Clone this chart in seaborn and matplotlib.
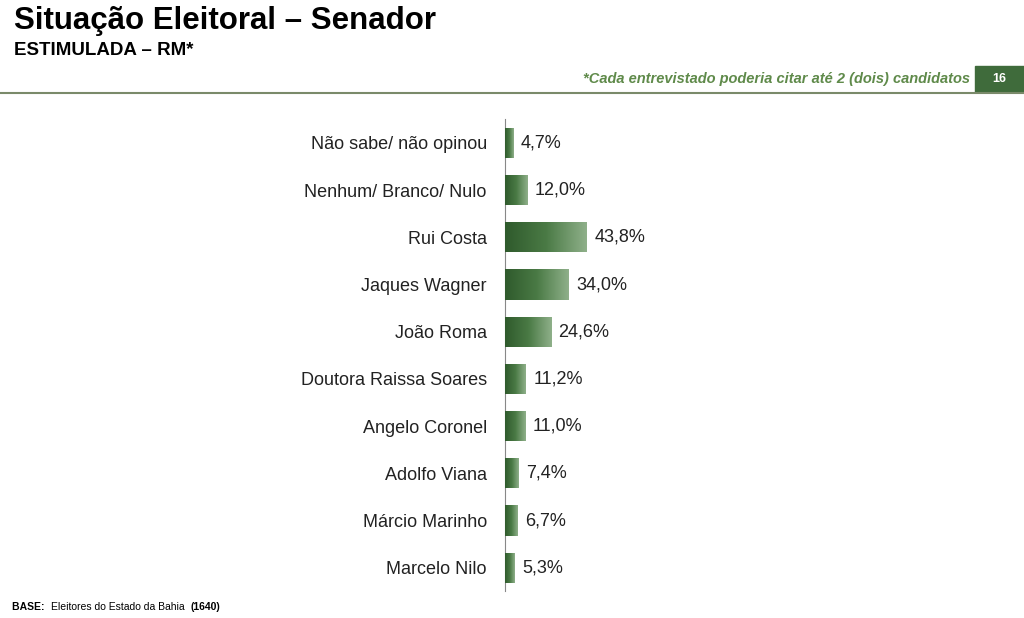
import matplotlib
matplotlib.use("Agg")
import matplotlib.pyplot as plt
import seaborn as sns
import pandas as pd
import numpy as np
from matplotlib.colors import LinearSegmentedColormap

categories = ["Não sabe/ não opinou", "Nenhum/ Branco/ Nulo", "Rui Costa", "Jaques Wagner",
              "João Roma", "Doutora Raissa Soares", "Angelo Coronel", "Adolfo Viana",
              "Márcio Marinho", "Marcelo Nilo"]
values = [4.7, 12.0, 43.8, 34.0, 24.6, 11.2, 11.0, 7.4, 6.7, 5.3]
labels = ["4,7%", "12,0%", "43,8%", "34,0%", "24,6%", "11,2%", "11,0%", "7,4%", "6,7%", "5,3%"]

df = pd.DataFrame({"cat": categories, "val": values})
plt.rcParams["font.family"] = "Liberation Sans"
fig = plt.figure(figsize=(10.24, 6.18), dpi=100)
ax = fig.add_axes([0.493, 0.043, 0.457, 0.764])
sns.barplot(data=df, x="val", y="cat", orient="h", color="#3f6b3b", width=0.64, ax=ax, saturation=1)
grad = np.linspace(0, 1, 256).reshape(1, -1)
cmap = LinearSegmentedColormap.from_list("g", ["#2f5a2c", "#4a7a45", "#8fb08a"])
for p in list(ax.patches):
    x0, y0 = p.get_x(), p.get_y()
    w, h = p.get_width(), p.get_height()
    im = ax.imshow(grad, extent=[x0, x0 + w, y0 + h, y0], aspect="auto", cmap=cmap, zorder=3)
    im.set_clip_path(p)
for i, (v, l) in enumerate(zip(values, labels)):
    ax.text(v + 4, i, l, va="center", ha="left", fontsize=13, color="#222222")
ax.set_xlim(0, 250)
ax.set_ylim(9.5, -0.5)
ax.set_xlabel(""); ax.set_ylabel("")
ax.set_xticks([])
for s in ["top", "right", "bottom"]:
    ax.spines[s].set_visible(False)
ax.spines["left"].set_color("#888888")
ax.tick_params(axis="y", length=0, labelsize=13, pad=13, labelcolor="#222222")

fig.text(0.014, 0.966, "Situação Eleitoral – Senador", fontsize=22.5, fontweight="bold", va="center")
fig.text(0.014, 0.918, "ESTIMULADA – RM*", fontsize=13.5, fontweight="bold", va="center")
fig.add_artist(plt.Line2D([0, 1], [0.849, 0.849], color="#7a8a6a", lw=1.5))
fig.text(0.947, 0.872, "*Cada entrevistado poderia citar até 2 (dois) candidatos", fontsize=10.5,
         fontstyle="italic", fontweight="bold", color="#5f8a4a", ha="right", va="center")
fig.add_artist(plt.Rectangle((0.952, 0.851), 0.048, 0.042, color="#3f6b3b", transform=fig.transFigure))
fig.text(0.976, 0.872, "16", fontsize=9, color="white", fontweight="bold", ha="center", va="center")

fig.canvas.draw()
r = fig.canvas.get_renderer()
x = 0.012
for txt, bold in [("BASE: ", True), ("Eleitores do Estado da Bahia ", False), ("(1640)", True)]:
    t = fig.text(x, 0.018, txt, fontsize=7.5, fontweight="bold" if bold else "normal", va="center")
    bb = t.get_window_extent(renderer=r)
    x += bb.width / fig.bbox.width + 0.003
fig.savefig("out.png", dpi=100)
